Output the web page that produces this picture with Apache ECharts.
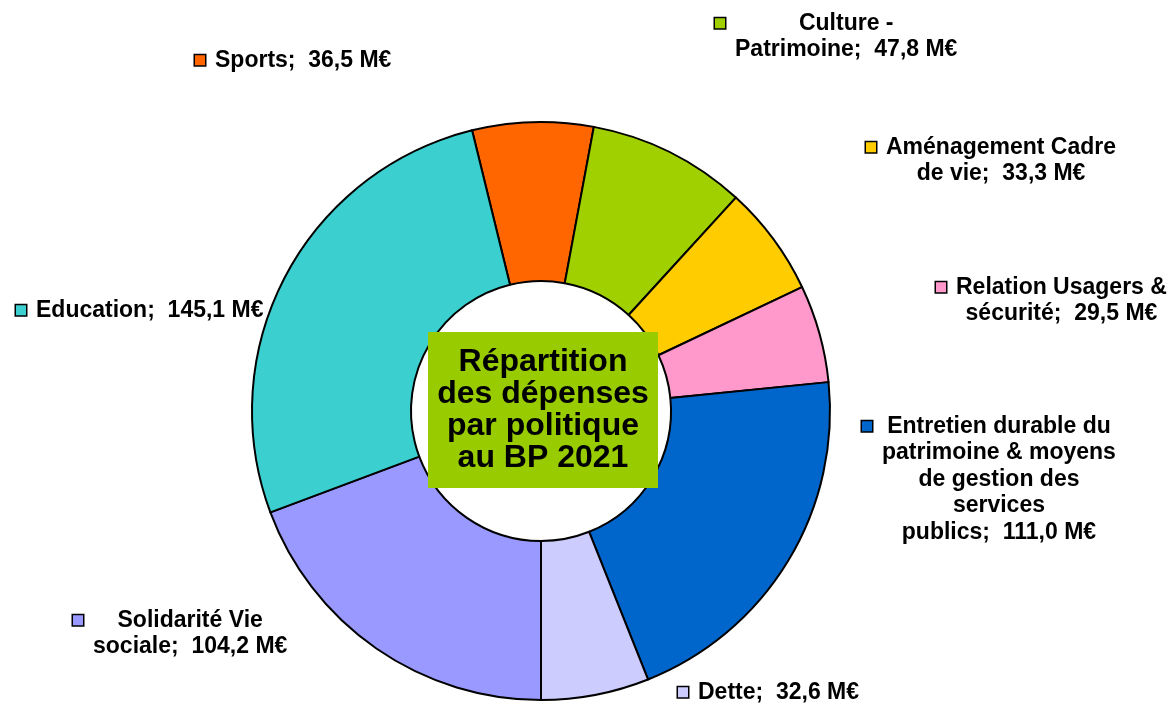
<!DOCTYPE html>
<html>
<head>
<meta charset="utf-8">
<script src="https://cdn.jsdelivr.net/npm/echarts@6.0.0/dist/echarts.min.js"></script>
<title>Répartition des dépenses</title>
<style>
  * { margin: 0; padding: 0; }
  html, body { background: #fff; }
  #chart { width: 1175px; height: 706px; }
</style>
</head>
<body>
<div id="chart"></div>
<script>
// données (M€)
var categories = [
  'Sports',
  'Culture -\nPatrimoine',
  'Aménagement Cadre\nde vie',
  'Relation Usagers &\nsécurité',
  'Entretien durable du\npatrimoine & moyens\nde gestion des\nservices\npublics',
  'Dette',
  'Solidarité Vie\nsociale',
  'Education'
];
var values = [36.5, 47.8, 33.3, 29.5, 111.0, 32.6, 104.2, 145.1];
var colors = ['#FF6600', '#A0D000', '#FFCC00', '#FF99CC', '#0066CC', '#CCCCFF', '#9999FF', '#3CCFCF'];
var centerTitle = 'Répartition\ndes dépenses\npar politique\nau BP 2021';

// position des étiquettes (coin haut gauche du bloc)
var labelPos = [
  [195, 47], [715, 10], [866, 134], [936, 274],
  [862, 413], [678, 679], [73, 607], [16, 297]
];

var font = '"Liberation Sans", Arial, sans-serif';

function fmt(v) {
  return v.toFixed(1).replace('.', ',') + ' M€';
}

var rich = {
  gap: { width: 10, align: 'left' },
  sp: { width: 20, align: 'left' },
  t: { align: 'center', fontSize: 23, fontWeight: 'bold', fontFamily: font, color: '#000', lineHeight: 26.5 }
};
colors.forEach(function (c, i) {
  rich['m' + i] = { width: 10, height: 10, backgroundColor: c, borderColor: '#000', borderWidth: 1.5, align: 'left' };
});

var data = categories.map(function (name, i) {
  return { name: name, value: values[i], itemStyle: { color: colors[i] } };
});

var chart = echarts.init(document.getElementById('chart'));
chart.setOption({
  animation: false,
  backgroundColor: '#fff',
  graphic: [{
    type: 'group',
    children: [{
      type: 'rect',
      shape: { x: 428, y: 332, width: 230, height: 156 },
      style: { fill: '#99CC00' },
      z: 10
    }, {
      type: 'text',
      x: 543, y: 410,
      z: 11,
      style: {
        text: centerTitle,
        fill: '#000',
        font: 'bold 32px ' + font,
        lineHeight: 32,
        align: 'center',
        verticalAlign: 'middle'
      }
    }]
  }],
  series: [{
    type: 'pie',
    center: [541, 411],
    radius: [130, 289],
    startAngle: 103.8,
    clockwise: true,
    avoidLabelOverlap: false,
    emphasis: { disabled: true },
    itemStyle: { borderColor: '#000', borderWidth: 2 },
    labelLine: { show: false },
    label: {
      show: true,
      position: 'outside',
      formatter: function (p) {
        var lines = p.name.split('\n');
        lines[lines.length - 1] += ';  ' + fmt(p.value);
        return lines.map(function (l, k) {
          return (k === 0 ? '{m' + p.dataIndex + '|}{gap|}' : '{sp|}') + '{t|' + l + '}';
        }).join('\n');
      },
      rich: rich
    },
    labelLayout: function (params) {
      var p = labelPos[params.dataIndex];
      return { x: p[0], y: p[1], align: 'left', verticalAlign: 'top' };
    },
    data: data
  }]
});
</script>
</body>
</html>
